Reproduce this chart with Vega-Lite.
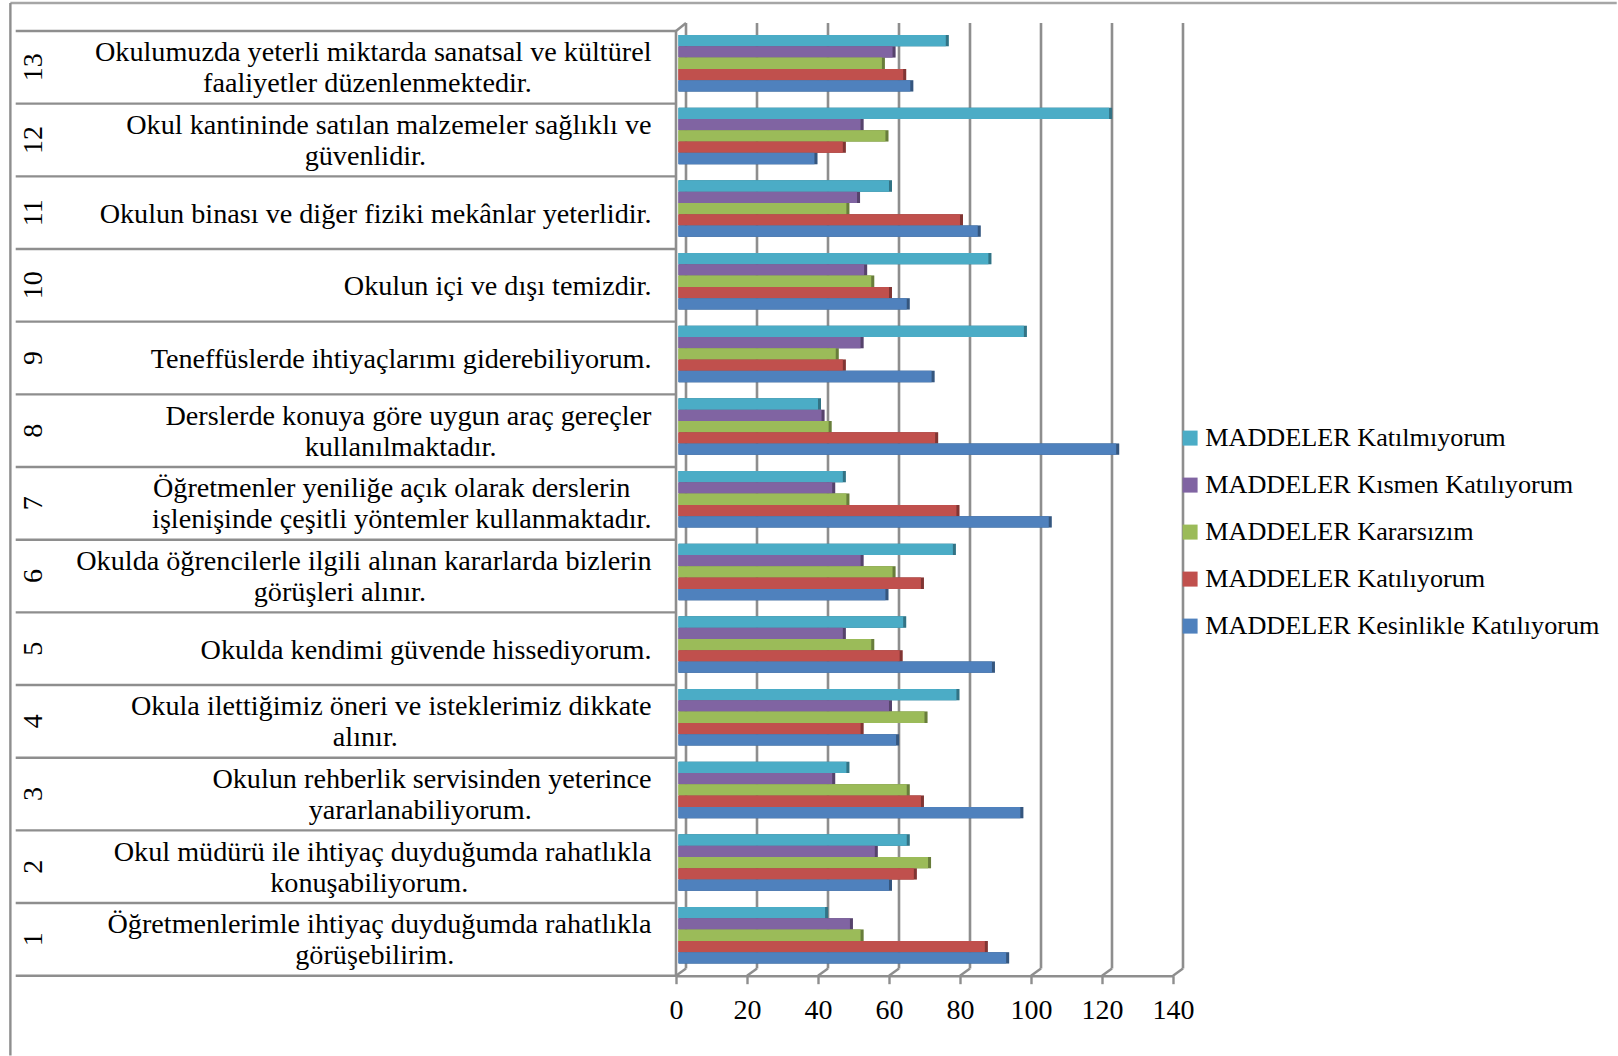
{
"$schema":"https://vega.github.io/schema/vega-lite/v6.json",
"width":497,"height":944.7,
"autosize":{"type":"none"},
"padding":{"left":676,"top":31,"right":445,"bottom":80},
"background":"white",
"config":{"view":{"stroke":null},"font":"Liberation Serif"},
"datasets":{
"grid":[{"v":0},{"v":20},{"v":40},{"v":60},{"v":80},{"v":100},{"v":120},{"v":140}],
"sep":[{"b":0},{"b":1},{"b":2},{"b":3},{"b":4},{"b":5},{"b":6},{"b":7},{"b":8},{"b":9},{"b":10},{"b":11},{"b":12},{"b":13}],
"bars":[
{"no":13,"madde":"Okulumuzda yeterli miktarda sanatsal ve kültürel|faaliyetler düzenlenmektedir.","c":76,"p":61,"g":58,"r":64,"b":66},
{"no":12,"madde":"Okul kantininde satılan malzemeler sağlıklı ve|güvenlidir.","c":122,"p":52,"g":59,"r":47,"b":39},
{"no":11,"madde":"Okulun binası ve diğer fiziki mekânlar yeterlidir.","c":60,"p":51,"g":48,"r":80,"b":85},
{"no":10,"madde":"Okulun içi ve dışı temizdir.","c":88,"p":53,"g":55,"r":60,"b":65},
{"no":9,"madde":"Teneffüslerde ihtiyaçlarımı giderebiliyorum.","c":98,"p":52,"g":45,"r":47,"b":72},
{"no":8,"madde":"Derslerde konuya göre uygun araç gereçler|kullanılmaktadır.","c":40,"p":41,"g":43,"r":73,"b":124},
{"no":7,"madde":"Öğretmenler yeniliğe açık olarak derslerin|işlenişinde çeşitli yöntemler kullanmaktadır.","c":47,"p":44,"g":48,"r":79,"b":105},
{"no":6,"madde":"Okulda öğrencilerle ilgili alınan kararlarda bizlerin|görüşleri alınır.","c":78,"p":52,"g":61,"r":69,"b":59},
{"no":5,"madde":"Okulda kendimi güvende hissediyorum.","c":64,"p":47,"g":55,"r":63,"b":89},
{"no":4,"madde":"Okula ilettiğimiz öneri ve isteklerimiz dikkate|alınır.","c":79,"p":60,"g":70,"r":52,"b":62},
{"no":3,"madde":"Okulun rehberlik servisinden yeterince|yararlanabiliyorum.","c":48,"p":44,"g":65,"r":69,"b":97},
{"no":2,"madde":"Okul müdürü ile ihtiyaç duyduğumda rahatlıkla|konuşabiliyorum.","c":65,"p":56,"g":71,"r":67,"b":60},
{"no":1,"madde":"Öğretmenlerimle ihtiyaç duyduğumda rahatlıkla|görüşebilirim.","c":42,"p":49,"g":52,"r":87,"b":93}
]},
"data":{"name":"bars"},
"transform":[
{"fold":["c","p","g","r","b"],"as":["k","deger"]},
{"lookup":"k","from":{"data":{"values":[{"k":"c","seri":"MADDELER Katılmıyorum"},{"k":"p","seri":"MADDELER Kısmen Katılıyorum"},{"k":"g","seri":"MADDELER Kararsızım"},{"k":"r","seri":"MADDELER Katılıyorum"},{"k":"b","seri":"MADDELER Kesinlikle Katılıyorum"}]},"key":"k","fields":["seri"]}}
],
"layer":[
{"data":{"values":[{"a":-187.5,"b":265,"y":13.385}]},"transform":[],"mark":{"type":"rule","stroke":"#a6a6a6","strokeWidth":2.4,"clip":false},
 "encoding":{"x":{"field":"a","type":"quantitative","scale":{"domain":[0,140]},"axis":{"values":[0,20,40,60,80,100,120,140],"title":null,"grid":false,"domainColor":"#8e8e8e","domainWidth":2.4,"tickColor":"#8e8e8e","tickWidth":2.4,"tickSize":8,"labelFontSize":28,"labelColor":"black","labelPadding":13,"labelFlush":false,"labelOverlap":false,"labelFont":"Liberation Serif"}},"x2":{"field":"b"},"y":{"field":"y","type":"quantitative","scale":{"domain":[0,13]},"axis":null}}},
{"data":{"values":[{"a":-187.5,"y0":-1.1,"y1":13.385}]},"transform":[],"mark":{"type":"rule","stroke":"#8e8e8e","strokeWidth":2.4,"clip":false},
 "encoding":{"x":{"field":"a","type":"quantitative","scale":{"domain":[0,140]}},"y":{"field":"y0","type":"quantitative","scale":{"domain":[0,13]},"axis":null},"y2":{"field":"y1"}}},
{"data":{"name":"sep"},"transform":[{"calculate":"-186","as":"a"},{"calculate":"0","as":"e"}],"mark":{"type":"rule","stroke":"#8e8e8e","strokeWidth":2.4,"clip":false},
 "encoding":{"x":{"field":"a","type":"quantitative","scale":{"domain":[0,140]}},"x2":{"field":"e"},"y":{"field":"b","type":"quantitative","scale":{"domain":[0,13]},"axis":null}}},
{"data":{"name":"grid"},"transform":[{"calculate":"0.1","as":"y0"},{"calculate":"13.11","as":"y1"}],"mark":{"type":"rule","stroke":"#8e8e8e","strokeWidth":2.6,"xOffset":10,"x2Offset":10,"clip":false},
 "encoding":{"x":{"field":"v","type":"quantitative","scale":{"domain":[0,140]}},"x2":{"field":"v"},"y":{"field":"y0","type":"quantitative","scale":{"domain":[0,13]},"axis":null},"y2":{"field":"y1"}}},
{"data":{"name":"grid"},"transform":[{"calculate":"0","as":"y0"},{"calculate":"0.1","as":"y1"}],"mark":{"type":"rule","stroke":"#8e8e8e","strokeWidth":2.4,"x2Offset":10,"clip":false},
 "encoding":{"x":{"field":"v","type":"quantitative","scale":{"domain":[0,140]}},"x2":{"field":"v"},"y":{"field":"y0","type":"quantitative","scale":{"domain":[0,13]},"axis":null},"y2":{"field":"y1"}}},
{"data":{"values":[{"v":0,"y0":13,"y1":13.11}]},"transform":[],"mark":{"type":"rule","stroke":"#8e8e8e","strokeWidth":2.4,"x2Offset":10,"clip":false},
 "encoding":{"x":{"field":"v","type":"quantitative","scale":{"domain":[0,140]}},"x2":{"field":"v"},"y":{"field":"y0","type":"quantitative","scale":{"domain":[0,13]},"axis":null},"y2":{"field":"y1"}}},
{"data":{"values":[{"v":0,"y0":0,"y1":13}]},"transform":[],"mark":{"type":"rule","stroke":"#8e8e8e","strokeWidth":2.6,"clip":false},
 "encoding":{"x":{"field":"v","type":"quantitative","scale":{"domain":[0,140]}},"y":{"field":"y0","type":"quantitative","scale":{"domain":[0,13]},"axis":null},"y2":{"field":"y1"}}},
{"mark":{"type":"bar","xOffset":3,"x2Offset":3},
 "encoding":{
  "y":{"field":"madde","type":"nominal","sort":{"field":"no","order":"descending"},"scale":{"paddingInner":0,"paddingOuter":0},"axis":{"orient":"left","title":null,"domain":false,"ticks":false,"grid":false,"labelFontSize":28.2,"labelColor":"black","labelPadding":25,"labelAlign":"right","labelLineHeight":31,"labelLimit":0,"labelExpr":"indexof(datum.label,'|')<0 ? datum.label : [split(datum.label,'|')[0]+pad('',max(0,round(0.9*(length(split(datum.label,'|')[1])-length(split(datum.label,'|')[0])))),'\u00a0')+'\u200b', split(datum.label,'|')[1]+pad('',max(0,round(0.9*(length(split(datum.label,'|')[0])-length(split(datum.label,'|')[1])))),'\u00a0')+'\u200b']","labelOffset":{"condition":{"test":"indexof(datum.value,'|')>=0","value":-14},"value":2},"labelFont":"Liberation Serif"}},
  "yOffset":{"field":"k","type":"nominal","sort":["c","p","g","r","b"],"scale":{"range":[4,60.5],"paddingInner":0,"paddingOuter":0}},
  "x":{"field":"deger","type":"quantitative","scale":{"domain":[0,140]}},
  "color":{"field":"seri","type":"nominal","scale":{"domain":["MADDELER Katılmıyorum","MADDELER Kısmen Katılıyorum","MADDELER Kararsızım","MADDELER Katılıyorum","MADDELER Kesinlikle Katılıyorum"],"range":["#4BACC6","#8064A2","#9BBB59","#C0504D","#4F81BD"]},
   "legend":{"title":null,"orient":"none","legendX":501,"legendY":394,"symbolType":"square","symbolSize":225,"symbolStrokeWidth":0,"symbolOpacity":1,"labelFontSize":26.2,"labelColor":"black","rowPadding":20,"labelOffset":2,"labelLimit":0,"padding":0,"labelFont":"Liberation Serif"}}
 }},
{"mark":{"type":"bar","color":"black","opacity":0.33,"xOffset":3,"x2Offset":3},
 "encoding":{
  "y":{"field":"no","type":"ordinal","sort":"descending","scale":{"paddingInner":0,"paddingOuter":0},"axis":{"orient":"left","title":null,"domain":false,"ticks":false,"grid":false,"labelFontSize":28,"labelColor":"black","labelAngle":-90,"labelAlign":"center","labelBaseline":"bottom","labelPadding":629,"labelFont":"Liberation Serif"}},
  "yOffset":{"field":"k","type":"nominal","sort":["c","p","g","r","b"],"scale":{"range":[4,60.5],"paddingInner":0,"paddingOuter":0}},
  "x":{"field":"deger","type":"quantitative","scale":{"domain":[0,140]}}
 }},
{"mark":{"type":"bar"},
 "encoding":{
  "y":{"field":"no","type":"ordinal","sort":"descending","scale":{"paddingInner":0,"paddingOuter":0},"axis":null},
  "yOffset":{"field":"k","type":"nominal","sort":["c","p","g","r","b"],"scale":{"range":[7,63.5],"paddingInner":0,"paddingOuter":0}},
  "x":{"field":"deger","type":"quantitative","scale":{"domain":[0,140]}},
  "x2":{"datum":0.6},
  "color":{"field":"seri","type":"nominal","scale":{"domain":["MADDELER Katılmıyorum","MADDELER Kısmen Katılıyorum","MADDELER Kararsızım","MADDELER Katılıyorum","MADDELER Kesinlikle Katılıyorum"],"range":["#4BACC6","#8064A2","#9BBB59","#C0504D","#4F81BD"]},"legend":null}
 }}
],
"resolve":{"scale":{"y":"independent"},"axis":{"y":"independent"}}
}
